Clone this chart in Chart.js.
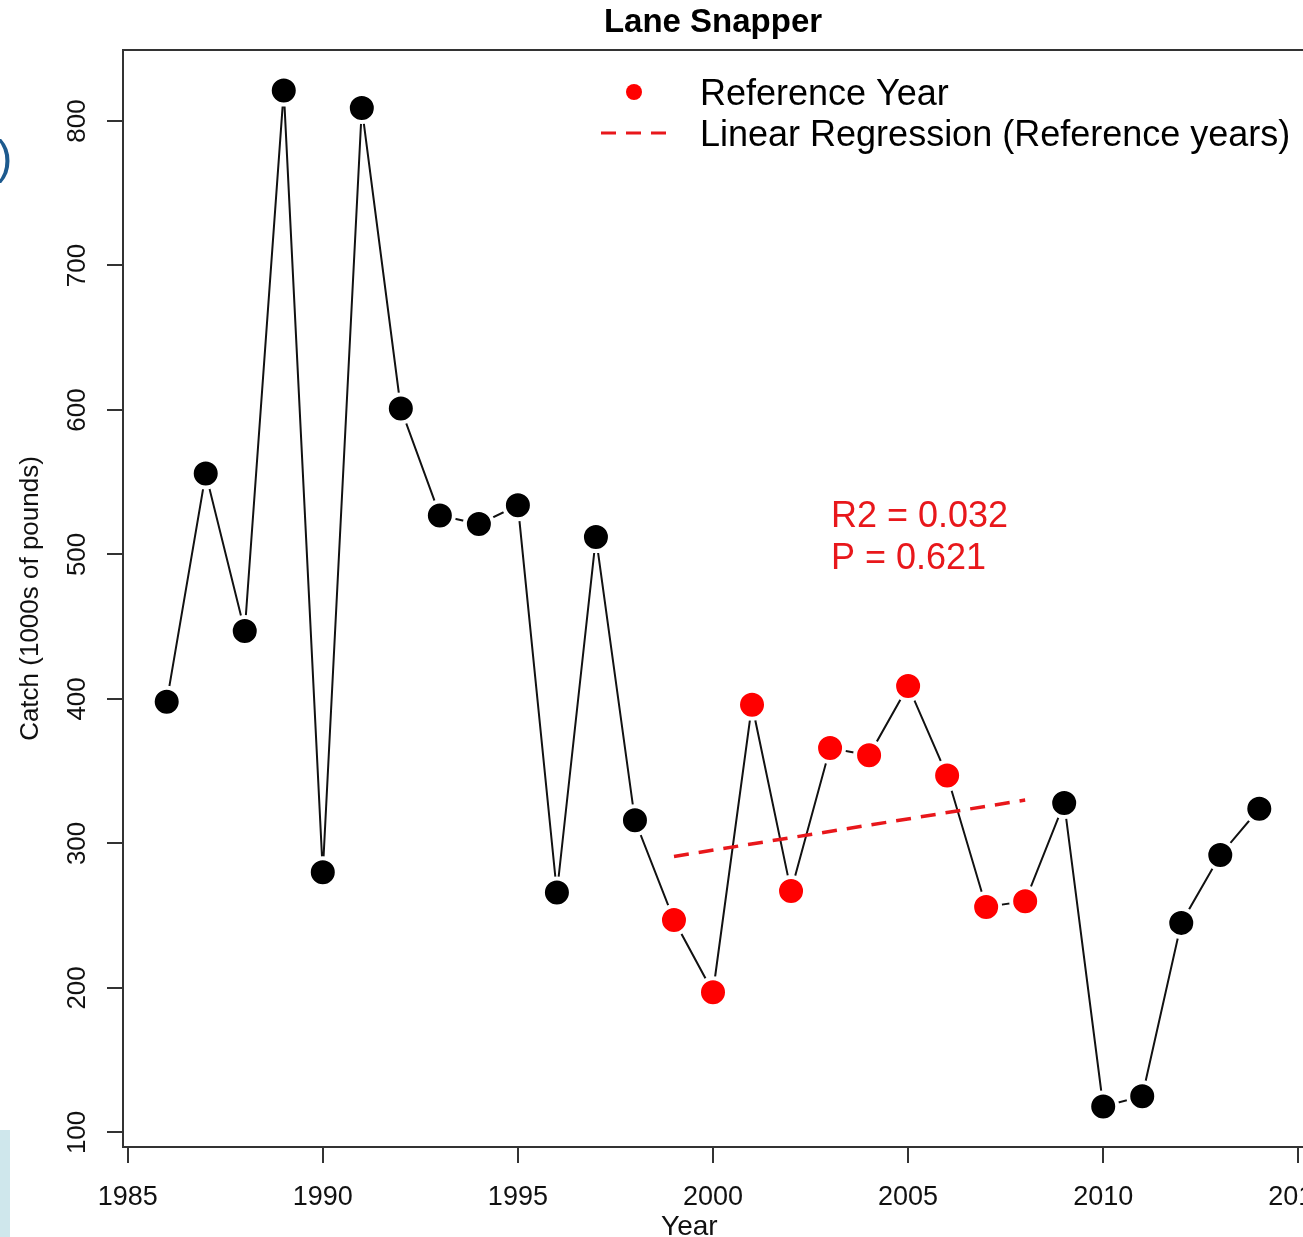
<!DOCTYPE html>
<html>
<head>
<meta charset="utf-8">
<title>Lane Snapper</title>
<script src="https://cdn.jsdelivr.net/npm/chart.js@4.4.1/dist/chart.umd.min.js"></script>
<style>
  html, body { margin: 0; padding: 0; background: #fff; overflow: hidden; }
  #wrap { position: relative; width: 1303px; height: 1237px; overflow: hidden; }
  #chart { position: absolute; left: 0; top: 0; width: 1321px; height: 1237px; }
  /* bits of the slide the figure was cut from */
  .slide-edge { position: absolute; left: 0; top: 1130px; width: 10px; height: 107px; background: #cfe7ec; }
  .slide-paren { position: absolute; left: -3px; top: 130px; font: 46px "Liberation Sans", Arial, sans-serif; color: #1d5a8e; }
</style>
</head>
<body>
<div id="wrap">
  <canvas id="chart" width="1321" height="1237"></canvas>
  <div class="slide-edge"></div>
  <div class="slide-paren">)</div>
</div>
<script>
// data
const years = [1986, 1987, 1988, 1989, 1990, 1991, 1992, 1993, 1994, 1995,
               1996, 1997, 1998, 1999, 2000, 2001, 2002, 2003, 2004, 2005,
               2006, 2007, 2008, 2009, 2010, 2011, 2012, 2013, 2014];
const catchValues = [398, 556, 447, 821, 280, 809, 601, 527, 521, 534,
                     266, 512, 316, 247, 197, 396, 267, 366, 361, 409,
                     347, 256, 260, 328, 118, 125, 245, 292, 324];
const referenceYears = [1999, 2000, 2001, 2002, 2003, 2004, 2005, 2006, 2007, 2008];
const regressionYears = [1999, 2008];
const regressionValues = [291, 330];
const xTicks = [1985, 1990, 1995, 2000, 2005, 2010, 2015];
const yTicks = [100, 200, 300, 400, 500, 600, 700, 800];
const statLines = ["R2 = 0.032", "P = 0.621"];
const legendLabels = ["Reference Year", "Linear Regression (Reference years)"];

const FONT = '"Liberation Sans", Arial, Helvetica, sans-serif';
const RED = "#ff0000";

const points = years.map((yr, i) => ({ x: yr, y: catchValues[i] }));
const regLine = regressionYears.map((yr, i) => ({ x: yr, y: regressionValues[i] }));

// R-style text: rotated y labels, title, legend, stats
const textPlugin = {
  id: "rText",
  afterDraw(chart) {
    const { ctx, chartArea: a, scales: { x, y } } = chart;
    ctx.save();

    // top edge of the box
    ctx.strokeStyle = "#333";
    ctx.lineWidth = 2;
    ctx.beginPath();
    ctx.moveTo(a.left, a.top);
    ctx.lineTo(a.right, a.top);
    ctx.stroke();

    ctx.fillStyle = "#111";
    ctx.textBaseline = "alphabetic";
    ctx.textAlign = "center";
    ctx.font = "27px " + FONT;
    xTicks.forEach(v => ctx.fillText(String(v), x.getPixelForValue(v), a.bottom + 58));
    ctx.font = "26px " + FONT;
    yTicks.forEach(v => {
      ctx.save();
      ctx.translate(a.left - 38, y.getPixelForValue(v));
      ctx.rotate(-Math.PI / 2);
      ctx.fillText(String(v), 0, 0);
      ctx.restore();
    });

    // axis titles
    ctx.save();
    ctx.translate(38, (a.top + a.bottom) / 2);
    ctx.rotate(-Math.PI / 2);
    ctx.fillText("Catch (1000s of pounds)", 0, 0);
    ctx.restore();
    ctx.font = "28px " + FONT;
    ctx.fillText("Year", a.left + (a.right - a.left) * 0.48, a.bottom + 88);

    // main title
    ctx.fillStyle = "#000";
    ctx.font = "bold 33px " + FONT;
    ctx.fillText("Lane Snapper", (a.left + a.right) / 2, a.top - 18);

    // legend
    ctx.textAlign = "left";
    ctx.font = "36px " + FONT;
    ctx.fillStyle = RED;
    ctx.beginPath();
    ctx.arc(634, 92, 8, 0, Math.PI * 2);
    ctx.fill();
    ctx.strokeStyle = "#e8171b";
    ctx.lineWidth = 3;
    ctx.setLineDash([15, 10]);
    ctx.beginPath();
    ctx.moveTo(601, 133);
    ctx.lineTo(668, 133);
    ctx.stroke();
    ctx.setLineDash([]);
    ctx.fillStyle = "#000";
    ctx.fillText(legendLabels[0], 700, 105);
    ctx.fillText(legendLabels[1], 700, 146);

    // regression stats
    ctx.fillStyle = "#e8171b";
    ctx.fillText(statLines[0], 831, 527);
    ctx.fillText(statLines[1], 831, 569);

    ctx.restore();
  }
};

const axisGrid = { drawOnChartArea: false, drawTicks: true, tickLength: 16, color: "#333", lineWidth: 2 };

new Chart(document.getElementById("chart"), {
  type: "scatter",
  data: {
    datasets: [
      {
        label: "Catch points",
        data: points,
        showLine: false,
        order: 0,
        pointRadius: 14,
        pointHoverRadius: 14,
        pointBorderWidth: 4,
        pointBorderColor: "#fff",
        pointBackgroundColor: points.map(p => referenceYears.includes(p.x) ? RED : "#000")
      },
      {
        label: "Linear Regression (Reference years)",
        data: regLine,
        showLine: true,
        order: 1,
        borderColor: "#e8171b",
        borderWidth: 3.5,
        borderDash: [15, 10],
        pointRadius: 0
      },
      {
        label: "Catch line",
        data: points,
        showLine: true,
        order: 2,
        borderColor: "#111",
        borderWidth: 2,
        pointRadius: 0
      }
    ]
  },
  options: {
    responsive: false,
    animation: false,
    devicePixelRatio: 1,
    events: [],
    layout: { padding: { top: 50, right: 6, left: 0, bottom: 0 } },
    plugins: { legend: { display: false }, tooltip: { enabled: false }, title: { display: false } },
    scales: {
      x: {
        type: "linear",
        min: 1984.88,
        max: 2015.12,
        afterBuildTicks: s => { s.ticks = xTicks.map(v => ({ value: v })); },
        afterFit: s => { s.height = 90; },
        ticks: { display: false },
        grid: axisGrid,
        border: { color: "#333", width: 2 }
      },
      y: {
        type: "linear",
        min: 89.9,
        max: 849.1,
        afterBuildTicks: s => { s.ticks = yTicks.map(v => ({ value: v })); },
        afterFit: s => { s.width = 123; },
        ticks: { display: false },
        grid: axisGrid,
        border: { color: "#333", width: 2 }
      }
    }
  },
  plugins: [textPlugin]
});
</script>
</body>
</html>
